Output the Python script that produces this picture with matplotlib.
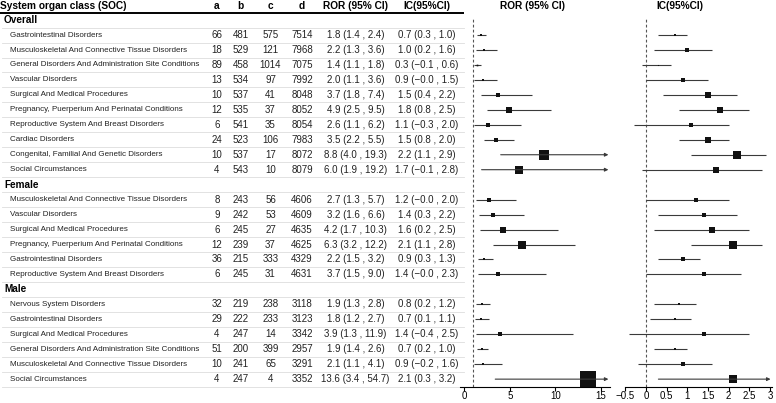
import matplotlib
matplotlib.use("Agg")
import matplotlib.pyplot as plt
import numpy as np

plt.rcParams['font.family'] = ['Liberation Sans', 'DejaVu Sans']

# ---------------- data ----------------
groups = ["Overall", "Female", "Male"]

overall_soc = ["Gastrointestinal Disorders",
               "Musculoskeletal And Connective Tissue Disorders",
               "General Disorders And Administration Site Conditions",
               "Vascular Disorders",
               "Surgical And Medical Procedures",
               "Pregnancy, Puerperium And Perinatal Conditions",
               "Reproductive System And Breast Disorders",
               "Cardiac Disorders",
               "Congenital, Familial And Genetic Disorders",
               "Social Circumstances"]
overall_a = [66, 18, 89, 13, 10, 12, 6, 24, 10, 4]
overall_b = [481, 529, 458, 534, 537, 535, 541, 523, 537, 543]
overall_c = [575, 121, 1014, 97, 41, 37, 35, 106, 17, 10]
overall_d = [7514, 7968, 7075, 7992, 8048, 8052, 8054, 7983, 8072, 8079]
overall_ror = [1.8, 2.2, 1.4, 2.0, 3.7, 4.9, 2.6, 3.5, 8.8, 6.0]
overall_ror_lo = [1.4, 1.3, 1.1, 1.1, 1.8, 2.5, 1.1, 2.2, 4.0, 1.9]
overall_ror_hi = [2.4, 3.6, 1.8, 3.6, 7.4, 9.5, 6.2, 5.5, 19.3, 19.2]
overall_ic = [0.7, 1.0, 0.3, 0.9, 1.5, 1.8, 1.1, 1.5, 2.2, 1.7]
overall_ic_lo = [0.3, 0.2, -0.1, -0.0, 0.4, 0.8, -0.3, 0.8, 1.1, -0.1]
overall_ic_hi = [1.0, 1.6, 0.6, 1.5, 2.2, 2.5, 2.0, 2.0, 2.9, 2.8]

female_soc = ["Musculoskeletal And Connective Tissue Disorders",
              "Vascular Disorders",
              "Surgical And Medical Procedures",
              "Pregnancy, Puerperium And Perinatal Conditions",
              "Gastrointestinal Disorders",
              "Reproductive System And Breast Disorders"]
female_a = [8, 9, 6, 12, 36, 6]
female_b = [243, 242, 245, 239, 215, 245]
female_c = [56, 53, 27, 37, 333, 31]
female_d = [4606, 4609, 4635, 4625, 4329, 4631]
female_ror = [2.7, 3.2, 4.2, 6.3, 2.2, 3.7]
female_ror_lo = [1.3, 1.6, 1.7, 3.2, 1.5, 1.5]
female_ror_hi = [5.7, 6.6, 10.3, 12.2, 3.2, 9.0]
female_ic = [1.2, 1.4, 1.6, 2.1, 0.9, 1.4]
female_ic_lo = [-0.0, 0.3, 0.2, 1.1, 0.3, -0.0]
female_ic_hi = [2.0, 2.2, 2.5, 2.8, 1.3, 2.3]

male_soc = ["Nervous System Disorders",
            "Gastrointestinal Disorders",
            "Surgical And Medical Procedures",
            "General Disorders And Administration Site Conditions",
            "Musculoskeletal And Connective Tissue Disorders",
            "Social Circumstances"]
male_a = [32, 29, 4, 51, 10, 4]
male_b = [219, 222, 247, 200, 241, 247]
male_c = [238, 233, 14, 399, 65, 4]
male_d = [3118, 3123, 3342, 2957, 3291, 3352]
male_ror = [1.9, 1.8, 3.9, 1.9, 2.1, 13.6]
male_ror_lo = [1.3, 1.2, 1.3, 1.4, 1.1, 3.4]
male_ror_hi = [2.8, 2.7, 11.9, 2.6, 4.1, 54.7]
male_ic = [0.8, 0.7, 1.4, 0.7, 0.9, 2.1]
male_ic_lo = [0.2, 0.1, -0.4, 0.2, -0.2, 0.3]
male_ic_hi = [1.2, 1.1, 2.5, 1.0, 1.6, 3.2]

col_headers = ["System organ class (SOC)", "a", "b", "c", "d", "ROR (95% CI)", "IC(95%CI)"]
ror_ticks = [0, 5, 10, 15]
ic_ticks = [-0.5, 0, 0.5, 1, 1.5, 2, 2.5, 3]

group_data = [
    (overall_soc, overall_a, overall_b, overall_c, overall_d, overall_ror, overall_ror_lo, overall_ror_hi,
     overall_ic, overall_ic_lo, overall_ic_hi),
    (female_soc, female_a, female_b, female_c, female_d, female_ror, female_ror_lo, female_ror_hi,
     female_ic, female_ic_lo, female_ic_hi),
    (male_soc, male_a, male_b, male_c, male_d, male_ror, male_ror_lo, male_ror_hi,
     male_ic, male_ic_lo, male_ic_hi),
]

# ---------------- layout ----------------
W, H = 776, 403
fig = plt.figure(figsize=(W / 100, H / 100), dpi=100)
ax0 = fig.add_axes([0, 0, 1, 1])
ax0.set_xlim(0, W)
ax0.set_ylim(H, 0)
ax0.axis('off')

row0_y = 20.1
row_h = 14.96


def row_y(i):
    return row0_y + row_h * i


def fmt(v):
    return f"{v:.1f}".replace("-", "\u2212")


num_fs = 7
lab_fs = 5.8
hdr_fs = 7.3
x_cols = [217, 240.5, 270.5, 302, 355.5, 427]
table_right = 464

# header
ax0.text(0, 6, col_headers[0], ha='left', va='center', fontsize=hdr_fs, fontweight='bold')
for x, h in zip(x_cols, col_headers[1:]):
    ax0.text(x, 6, h, ha='center', va='center', fontsize=hdr_fs, fontweight='bold')
ax0.plot([0, table_right], [13, 13], color='black', lw=1.4, solid_capstyle='butt')

# rows
rows = []  # (kind, payload)
for g, gd in zip(groups, group_data):
    rows.append(("group", g))
    for k in range(len(gd[0])):
        rows.append(("data", [x[k] for x in gd]))

for i, (kind, payload) in enumerate(rows):
    y = row_y(i)
    if kind == "group":
        ax0.text(4, y, payload, ha='left', va='center', fontsize=7.2, fontweight='bold')
    else:
        soc, a, b, c, d, r, rl, rh, ic, il, ih = payload
        ax0.text(10, y, soc, ha='left', va='center', fontsize=lab_fs, color='#222222')
        vals = [str(a), str(b), str(c), str(d),
                f"{fmt(r)} ({fmt(rl)} , {fmt(rh)})",
                f"{fmt(ic)} ({fmt(il)} , {fmt(ih)})"]
        for x, v in zip(x_cols, vals):
            ax0.text(x, y, v, ha='center', va='center', fontsize=num_fs, color='#222222')
    # separator line below row
    ax0.plot([2, table_right], [y + row_h / 2, y + row_h / 2], color='#dddddd', lw=0.6)

# ---------------- forest panels ----------------
ax_top_px, ax_bot_px = 18, 386.5
ylim_top = (ax_top_px - row0_y) / row_h
ylim_bot = (ax_bot_px - row0_y) / row_h


def tick_label(t):
    return f"{t:g}".replace("-", "\u2212")


def make_axes(x0_px, x1_px, xlim, ticks, ref, title, title_x):
    ax = fig.add_axes([x0_px / W, (H - ax_bot_px) / H, (x1_px - x0_px) / W, (ax_bot_px - ax_top_px) / H])
    ax.set_xlim(*xlim)
    ax.set_ylim(ylim_bot, ylim_top)
    for s in ['top', 'right', 'left']:
        ax.spines[s].set_visible(False)
    ax.spines['bottom'].set_linewidth(0.8)
    ax.set_yticks([])
    ax.set_xticks(ticks)
    ax.set_xticklabels([tick_label(t) for t in ticks])
    ax.tick_params(axis='x', length=3, width=0.8, labelsize=7, pad=0.5)
    ax.axvline(ref, color='#555555', lw=0.8, linestyle=(0, (2.5, 2)))
    ax.patch.set_alpha(0)
    ax0.text(title_x, 6, title, ha='center', va='center', fontsize=hdr_fs, fontweight='bold')
    return ax


ax_r = make_axes(459.75, 609.9, (-0.5, 16.0), ror_ticks, 1, col_headers[5], 532)
ax_i = make_axes(625.35, 772.0, (-0.5, 3.05), ic_ticks, 0, col_headers[6], 680)

line_col = '#3a3a3a'


def draw_ci(ax, i, est, lo, hi, size, xlim):
    xmax = xlim[1] - (xlim[1] - xlim[0]) * 0.01
    if hi > xlim[1]:
        ax.annotate("", xy=(xmax, i), xytext=(lo, i),
                    arrowprops=dict(arrowstyle='-|>', color=line_col, lw=0.8,
                                    mutation_scale=5, shrinkA=0, shrinkB=0))
    else:
        ax.plot([lo, hi], [i, i], color=line_col, lw=0.8, solid_capstyle='butt')
    ax.plot([est], [i], marker='s', markersize=size, color='#111111', markeredgewidth=0)


for i, (kind, payload) in enumerate(rows):
    if kind != "data":
        continue
    soc, a, b, c, d, r, rl, rh, ic, il, ih = payload
    draw_ci(ax_r, i, r, rl, rh, 0.86 * r, ax_r.get_xlim())
    draw_ci(ax_i, i, ic, il, ih, 2.5 * ic, ax_i.get_xlim())

fig.savefig("out.png", dpi=100)
